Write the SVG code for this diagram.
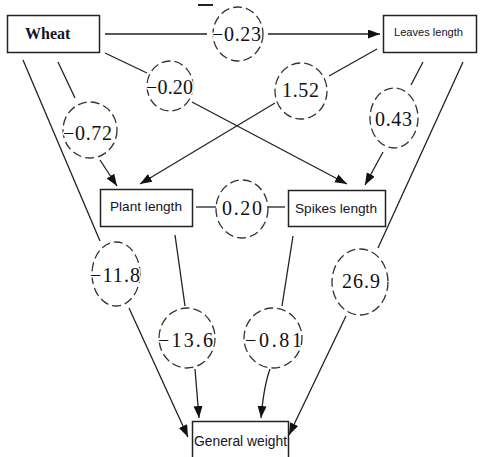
<svg xmlns="http://www.w3.org/2000/svg" width="480" height="457" viewBox="0 0 480 457">
<defs>
<style>
.box{fill:#fff;stroke:#222;stroke-width:1.5}
.ln{fill:none;stroke:#222;stroke-width:1.3}
.arr{marker-end:url(#ah)}
.cir{fill:none;stroke:#333;stroke-width:1.3;stroke-dasharray:9 4}
.num{font-family:"Liberation Serif","Times New Roman",serif;font-size:20px;fill:#111;stroke:#fff;stroke-width:3;paint-order:stroke;stroke-linejoin:round}
.lab{font-family:"Liberation Sans",Arial,sans-serif;fill:#141428}
.wh{font-family:"Liberation Serif","Times New Roman",serif;font-weight:bold;font-size:16px;fill:#141428}
</style>
<marker id="ah" markerUnits="userSpaceOnUse" markerWidth="12" markerHeight="10" refX="12" refY="4.5" orient="auto">
<path d="M0,0 L12,4.5 L0,9 z" fill="#111"/>
</marker>
</defs>
<rect width="480" height="457" fill="#fff"/>
<g id="connectors">
<line class="ln" x1="105" y1="34" x2="207" y2="34"/>
<line class="ln arr" x1="268" y1="34" x2="380" y2="34"/>
<line class="ln" x1="105" y1="53" x2="147" y2="73"/>
<line class="ln arr" x1="192" y1="102" x2="347" y2="184"/>
<line class="ln" x1="377" y1="49" x2="329" y2="76"/>
<line class="ln arr" x1="275" y1="103" x2="140" y2="184"/>
<line class="ln" x1="58" y1="62" x2="75" y2="98"/>
<line class="ln arr" x1="100" y1="160" x2="117" y2="186"/>
<line class="ln" x1="423" y1="62" x2="411" y2="85"/>
<line class="ln arr" x1="383" y1="152" x2="365" y2="185"/>
<line class="ln" x1="23" y1="60" x2="100" y2="241"/>
<line class="ln arr" x1="129" y1="308" x2="188" y2="437"/>
<line class="ln" x1="463" y1="62" x2="378" y2="248"/>
<line class="ln arr" x1="346" y1="316" x2="289" y2="435"/>
<line class="ln" x1="175" y1="235" x2="185" y2="306"/>
<line class="ln arr" x1="195" y1="369" x2="199" y2="418"/>
<line class="ln" x1="293" y1="236" x2="282" y2="306"/>
<path class="ln arr" d="M270,369 Q264,385 261,418"/>
<line class="ln" x1="196" y1="207" x2="216" y2="207"/>
<line class="ln" x1="268" y1="207" x2="285" y2="207"/>
<line x1="198" y1="5" x2="213" y2="5" stroke="#222" stroke-width="2"/>
</g>
<g id="wheat"><rect class="box" x="7.5" y="15.5" width="92" height="37"/><text class="wh" x="25" y="39">Wheat</text></g>
<g id="leaves"><rect class="box" x="383.5" y="15.5" width="93" height="37"/><text class="lab" x="394" y="36" font-size="11" textLength="69" lengthAdjust="spacingAndGlyphs">Leaves length</text></g>
<g id="plant"><rect class="box" x="100.5" y="189.5" width="92" height="37"/><text class="lab" x="110" y="211" font-size="13.6" textLength="72" lengthAdjust="spacingAndGlyphs">Plant length</text></g>
<g id="spikes"><rect class="box" x="288.5" y="190.5" width="97" height="36"/><text class="lab" x="295" y="213" font-size="13.7" textLength="82" lengthAdjust="spacingAndGlyphs">Spikes length</text></g>
<g id="general"><rect class="box" x="192.5" y="421.5" width="96" height="50"/><text class="lab" x="194" y="446" font-size="13.8" textLength="93" lengthAdjust="spacingAndGlyphs">General weight</text></g>
<g id="c1"><ellipse class="cir" cx="238" cy="34" rx="25" ry="27"/><text class="num" x="212" y="41" textLength="49">−0.23</text></g>
<g id="c2"><ellipse class="cir" cx="170" cy="86" rx="23" ry="25"/><text class="num" x="146" y="94" textLength="47">−0.20</text></g>
<g id="c3"><ellipse class="cir" cx="301" cy="91" rx="26" ry="28"/><text class="num" x="282" y="97" textLength="37">1.52</text></g>
<g id="c4"><ellipse class="cir" cx="90" cy="130" rx="27" ry="28"/><text class="num" x="63" y="140" textLength="49">−0.72</text></g>
<g id="c5"><ellipse class="cir" cx="394" cy="118" rx="24" ry="30"/><text class="num" x="375" y="126" textLength="37">0.43</text></g>
<g id="c6"><ellipse class="cir" cx="242" cy="209" rx="26" ry="29"/><text class="num" x="222" y="215" textLength="40">0.20</text></g>
<g id="c7"><ellipse class="cir" cx="116" cy="274" rx="24" ry="32"/><text class="num" x="90" y="282" textLength="50">−11.8</text></g>
<g id="c8"><ellipse class="cir" cx="360" cy="282" rx="28" ry="33"/><text class="num" x="342" y="288" textLength="38">26.9</text></g>
<g id="c9"><ellipse class="cir" cx="187" cy="338" rx="28" ry="30"/><text class="num" x="158" y="347" textLength="55">−13.6</text></g>
<g id="c10"><ellipse class="cir" cx="273" cy="338" rx="29" ry="30"/><text class="num" x="245" y="347" textLength="57">−0.81</text></g>
</svg>
